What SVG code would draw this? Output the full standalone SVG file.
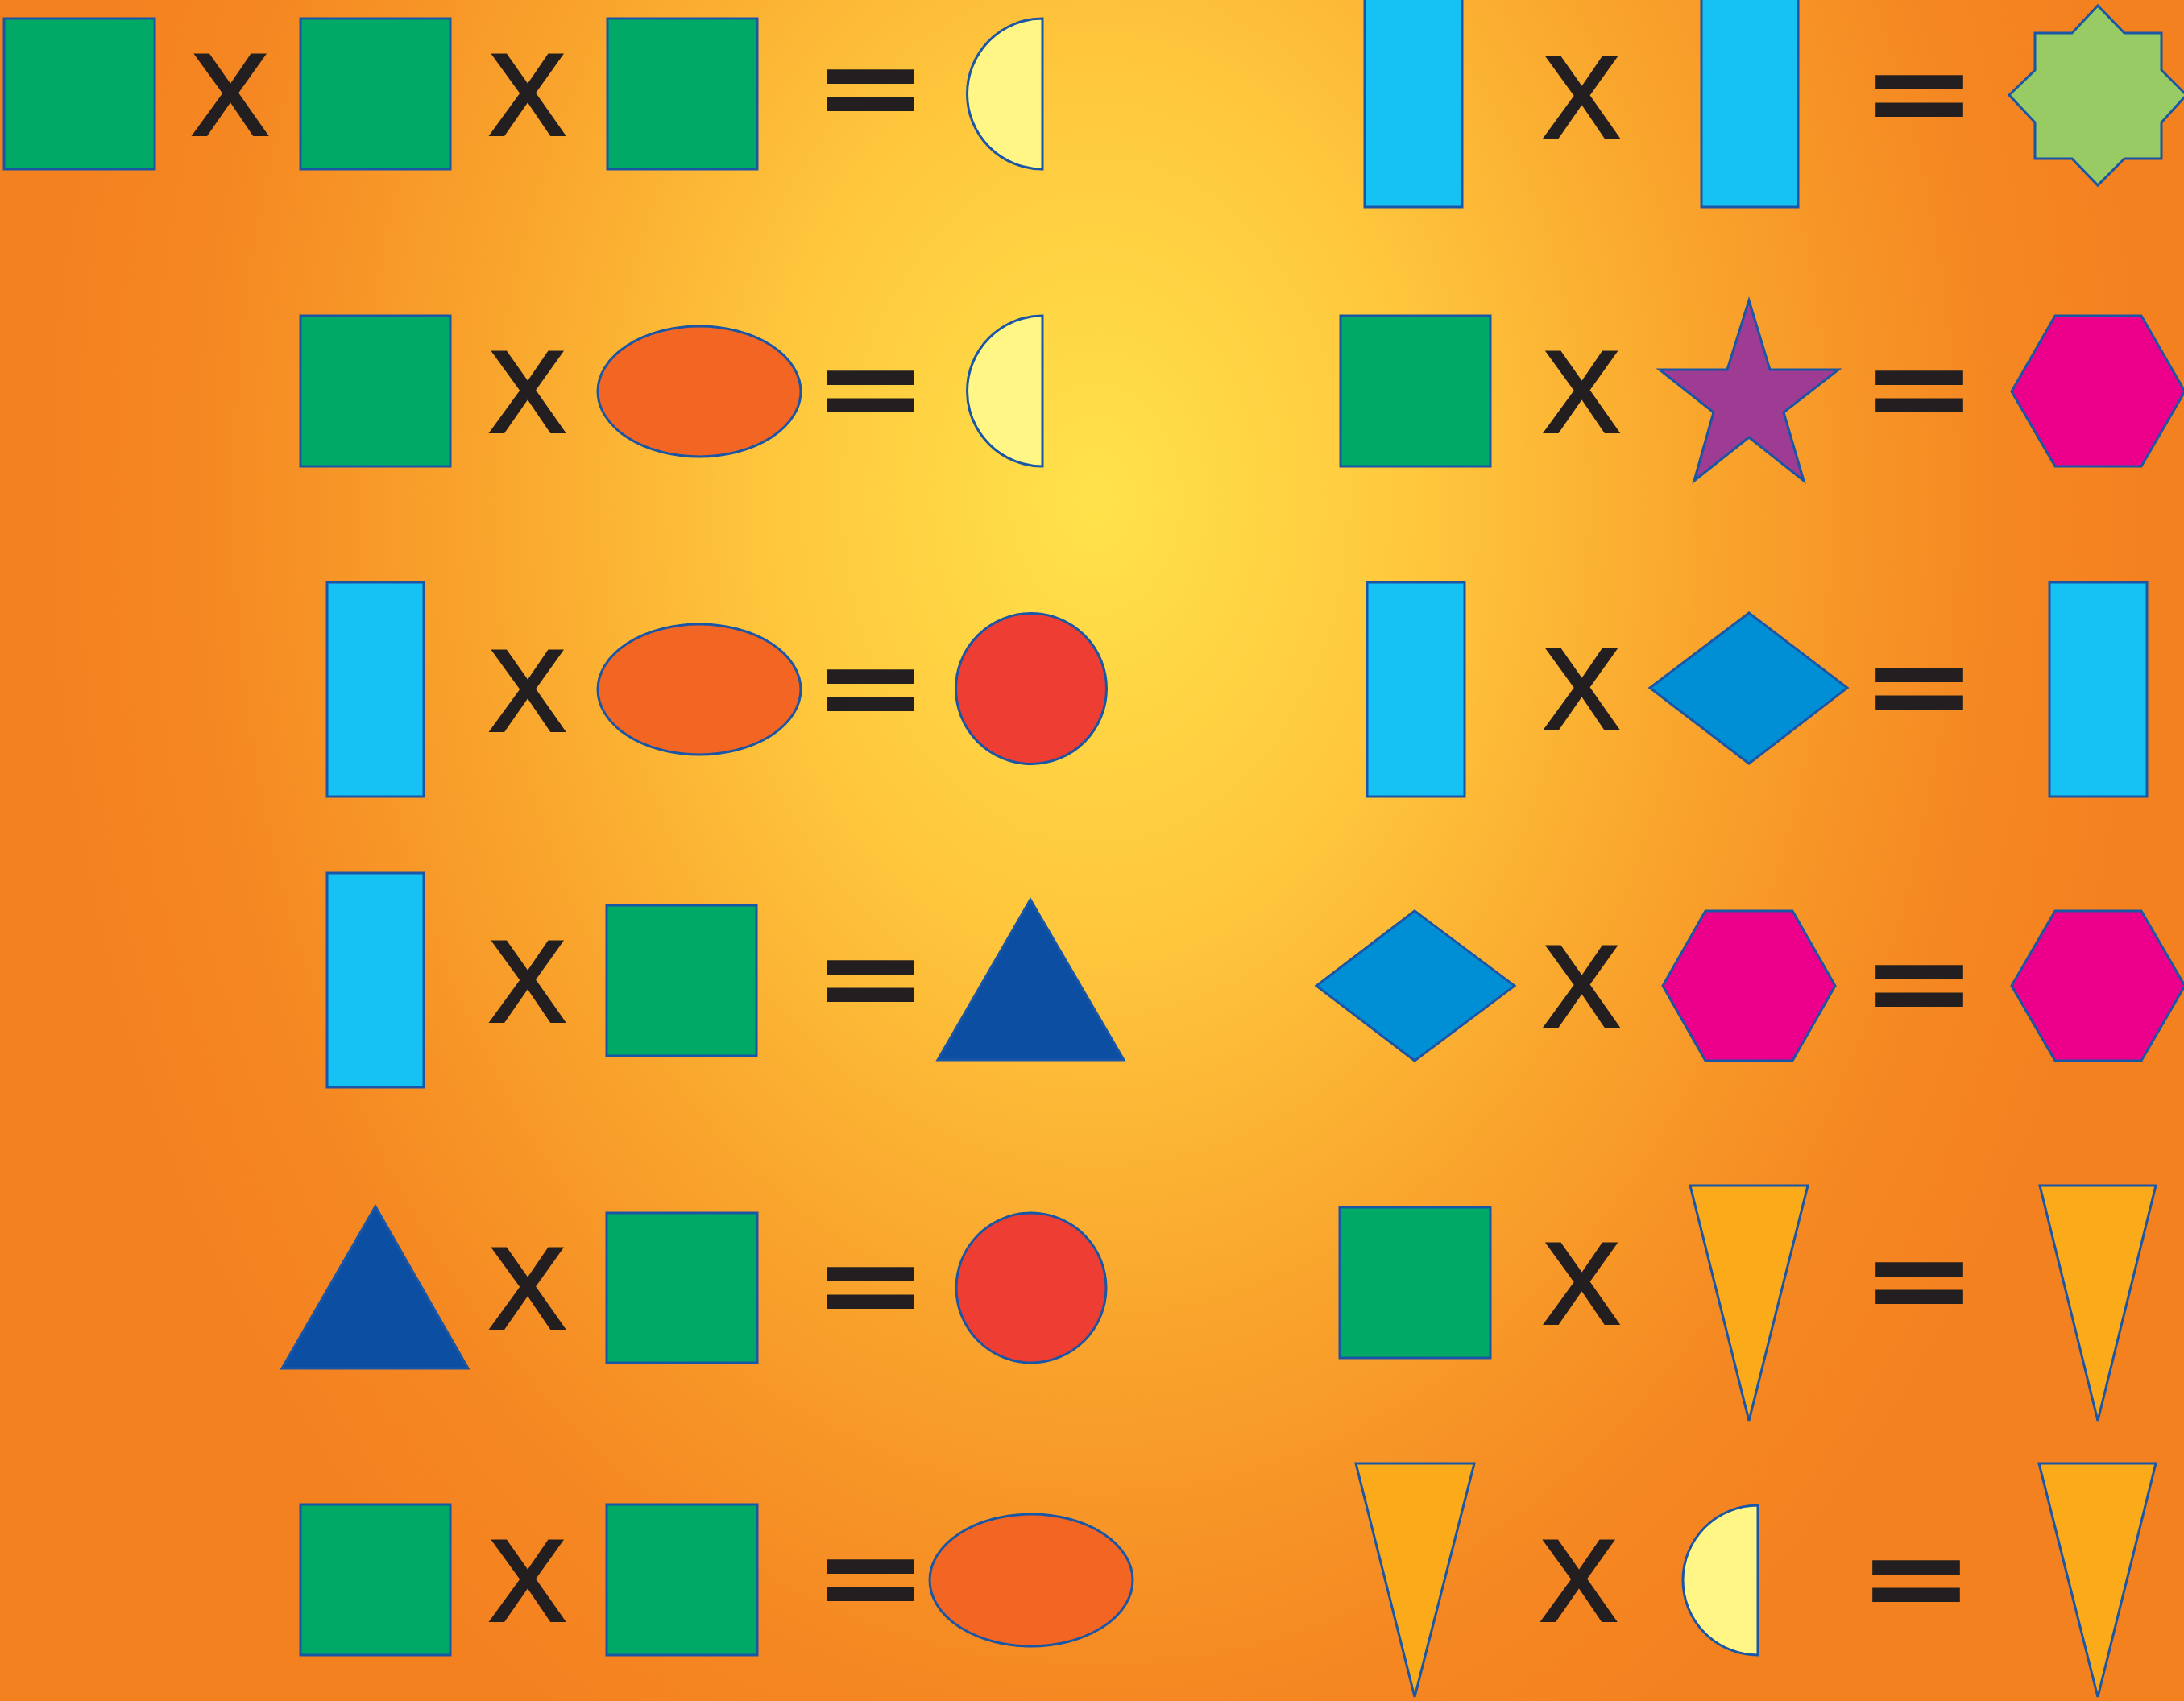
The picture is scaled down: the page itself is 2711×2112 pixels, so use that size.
<svg xmlns="http://www.w3.org/2000/svg" width="2711" height="2112" viewBox="0 0 2711 2112">
<defs>
<radialGradient id="bg" gradientUnits="userSpaceOnUse" cx="1360" cy="620" r="1300" gradientTransform="translate(1360 620) scale(1 1.35) translate(-1360 -620)">
<stop offset="0" stop-color="#ffe24b"/>
<stop offset="0.3" stop-color="#ffc83d"/>
<stop offset="0.6" stop-color="#f9a32c"/>
<stop offset="0.85" stop-color="#f58822"/>
<stop offset="1" stop-color="#f48120"/>
</radialGradient>
<style>
.s{stroke:#1a56a6;stroke-width:3;stroke-linejoin:miter}
.green{fill:#00a965}.cyan{fill:#16c1f3}.yel{fill:#fff685}.org{fill:#f26522}.red{fill:#ee3d32}
.navy{fill:#0c4fa2}.azure{fill:#008fd5}.mag{fill:#ec008b}.pur{fill:#9e3c93}.lime{fill:#98cb63}.amber{fill:#fbaa19}
.x{font-family:"Liberation Sans",Arial,sans-serif;font-size:142px;fill:#231f20;stroke:#231f20;stroke-width:4;stroke-linejoin:miter;text-anchor:middle}
.eq{font-family:"Liberation Sans",Arial,sans-serif;font-weight:bold;font-size:225px;fill:#231f20;stroke:#231f20;stroke-width:6.75;stroke-linejoin:miter;text-anchor:middle}
</style>
</defs>
<rect id="background" x="0" y="0" width="2711" height="2112" fill="url(#bg)"/>

<g id="connectors"></g>

<!-- LEFT COLUMN -->
<g id="L1">
<g id="L1-a"><rect class="s green" x="5" y="23" width="187" height="187"/></g>
<g id="L1-x1"><text class="x" x="285.5" y="167">X</text></g>
<g id="L1-b"><rect class="s green" x="373" y="23" width="186" height="187"/></g>
<g id="L1-x2"><text class="x" x="654.5" y="167">X</text></g>
<g id="L1-c"><rect class="s green" x="754" y="23" width="186" height="187"/></g>
<g id="L1-eq"><text class="eq" transform="translate(1080.5 111.5) scale(0.909 0.5596)" x="0" y="75.4">=</text></g>
<g id="L1-r"><path class="s yel" d="M1294 23 A93.5 93.5 0 0 0 1294 210 Z"/></g>
</g>

<g id="L2">
<g id="L2-a"><rect class="s green" x="373" y="392" width="186" height="187"/></g>
<g id="L2-x"><text class="x" x="654.5" y="536">X</text></g>
<g id="L2-b"><ellipse class="s org" cx="868" cy="486" rx="126" ry="81"/></g>
<g id="L2-eq"><text class="eq" transform="translate(1080.5 485.5) scale(0.909 0.5596)" x="0" y="75.4">=</text></g>
<g id="L2-r"><path class="s yel" d="M1294 392 A93.5 93.5 0 0 0 1294 579 Z"/></g>
</g>

<g id="L3">
<g id="L3-a"><rect class="s cyan" x="406" y="723" width="120" height="266"/></g>
<g id="L3-x"><text class="x" x="654.5" y="907">X</text></g>
<g id="L3-b"><ellipse class="s org" cx="868" cy="856" rx="126" ry="81"/></g>
<g id="L3-eq"><text class="eq" transform="translate(1080.5 856.5) scale(0.909 0.5596)" x="0" y="75.4">=</text></g>
<g id="L3-r"><circle class="s red" cx="1280" cy="855" r="93.5"/></g>
</g>

<g id="L4">
<g id="L4-a"><rect class="s cyan" x="406" y="1084" width="120" height="266"/></g>
<g id="L4-x"><text class="x" x="654.5" y="1268">X</text></g>
<g id="L4-b"><rect class="s green" x="753" y="1124" width="186" height="187"/></g>
<g id="L4-eq"><text class="eq" transform="translate(1080.5 1217.5) scale(0.909 0.5596)" x="0" y="75.4">=</text></g>
<g id="L4-r"><polygon class="s navy" points="1279,1117 1395,1316 1164,1316"/></g>
</g>

<g id="L5">
<g id="L5-a"><polygon class="s navy" points="466,1498 581,1699 350,1699"/></g>
<g id="L5-x"><text class="x" x="654.5" y="1649">X</text></g>
<g id="L5-b"><rect class="s green" x="753" y="1506" width="187" height="186"/></g>
<g id="L5-eq"><text class="eq" transform="translate(1080.5 1599) scale(0.909 0.5596)" x="0" y="75.4">=</text></g>
<g id="L5-r"><circle class="s red" cx="1280" cy="1599" r="93"/></g>
</g>

<g id="L6">
<g id="L6-a"><rect class="s green" x="373" y="1868" width="186" height="187"/></g>
<g id="L6-x"><text class="x" x="654.5" y="2012">X</text></g>
<g id="L6-b"><rect class="s green" x="753" y="1868" width="187" height="187"/></g>
<g id="L6-eq"><text class="eq" transform="translate(1080.5 1961.5) scale(0.909 0.5596)" x="0" y="75.4">=</text></g>
<g id="L6-r"><ellipse class="s org" cx="1280" cy="1962" rx="126" ry="82"/></g>
</g>

<!-- RIGHT COLUMN -->
<g id="R1">
<g id="R1-a"><rect class="s cyan" x="1694" y="-10" width="121" height="267"/></g>
<g id="R1-x"><text class="x" x="1963" y="170">X</text></g>
<g id="R1-b"><rect class="s cyan" x="2112" y="-10" width="120" height="267"/></g>
<g id="R1-eq"><text class="eq" transform="translate(2382.5 119) scale(0.909 0.5596)" x="0" y="75.4">=</text></g>
<g id="R1-r"><polygon class="s lime" points="2604,7 2637,41 2683,41 2683,87 2714,118 2683,152 2683,197 2637,197 2604,230 2572,197 2526,197 2526,152 2494,118 2526,87 2526,41 2572,41"/></g>
</g>

<g id="R2">
<g id="R2-a"><rect class="s green" x="1664" y="392" width="186" height="187"/></g>
<g id="R2-x"><text class="x" x="1963" y="536">X</text></g>
<g id="R2-b"><polygon class="s pur" points="2171,373 2197,459 2282,459 2214,512 2239,597 2171,543 2103,597 2127,512 2060,459 2144,459"/></g>
<g id="R2-eq"><text class="eq" transform="translate(2382.5 485.5) scale(0.909 0.5596)" x="0" y="75.4">=</text></g>
<g id="R2-r"><polygon class="s mag" points="2551,392 2658,392 2712,486 2658,579 2551,579 2497,486"/></g>
</g>

<g id="R3">
<g id="R3-a"><rect class="s cyan" x="1697" y="723" width="121" height="266"/></g>
<g id="R3-x"><text class="x" x="1963" y="905">X</text></g>
<g id="R3-b"><polygon class="s azure" points="2171,761 2293,854 2171,948 2048,854"/></g>
<g id="R3-eq"><text class="eq" transform="translate(2382.5 855) scale(0.909 0.5596)" x="0" y="75.4">=</text></g>
<g id="R3-r"><rect class="s cyan" x="2544" y="723" width="121" height="266"/></g>
</g>

<g id="R4">
<g id="R4-a"><polygon class="s azure" points="1756,1131 1880,1224 1756,1317 1634,1224"/></g>
<g id="R4-x"><text class="x" x="1963" y="1274">X</text></g>
<g id="R4-b"><polygon class="s mag" points="2117,1131 2225,1131 2278,1224 2225,1317 2117,1317 2064,1224"/></g>
<g id="R4-eq"><text class="eq" transform="translate(2382.5 1223.5) scale(0.909 0.5596)" x="0" y="75.4">=</text></g>
<g id="R4-r"><polygon class="s mag" points="2551,1131 2658,1131 2712,1224 2658,1317 2551,1317 2497,1224"/></g>
</g>

<g id="R5">
<g id="R5-a"><rect class="s green" x="1663" y="1499" width="187" height="187"/></g>
<g id="R5-x"><text class="x" x="1963" y="1643">X</text></g>
<g id="R5-b"><polygon class="s amber" points="2098,1472 2244,1472 2171,1764"/></g>
<g id="R5-eq"><text class="eq" transform="translate(2382.5 1592.5) scale(0.909 0.5596)" x="0" y="75.4">=</text></g>
<g id="R5-r"><polygon class="s amber" points="2532,1472 2676,1472 2604,1764"/></g>
</g>

<g id="R6">
<g id="R6-a"><polygon class="s amber" points="1683,1817 1830,1817 1756,2107"/></g>
<g id="R6-x"><text class="x" x="1959.5" y="2012">X</text></g>
<g id="R6-b"><path class="s yel" d="M2182 1869 A93 93 0 0 0 2182 2055 Z"/></g>
<g id="R6-eq"><text class="eq" transform="translate(2378.5 1962.5) scale(0.909 0.5596)" x="0" y="75.4">=</text></g>
<g id="R6-r"><polygon class="s amber" points="2531,1817 2676,1817 2604,2107"/></g>
</g>
</svg>
